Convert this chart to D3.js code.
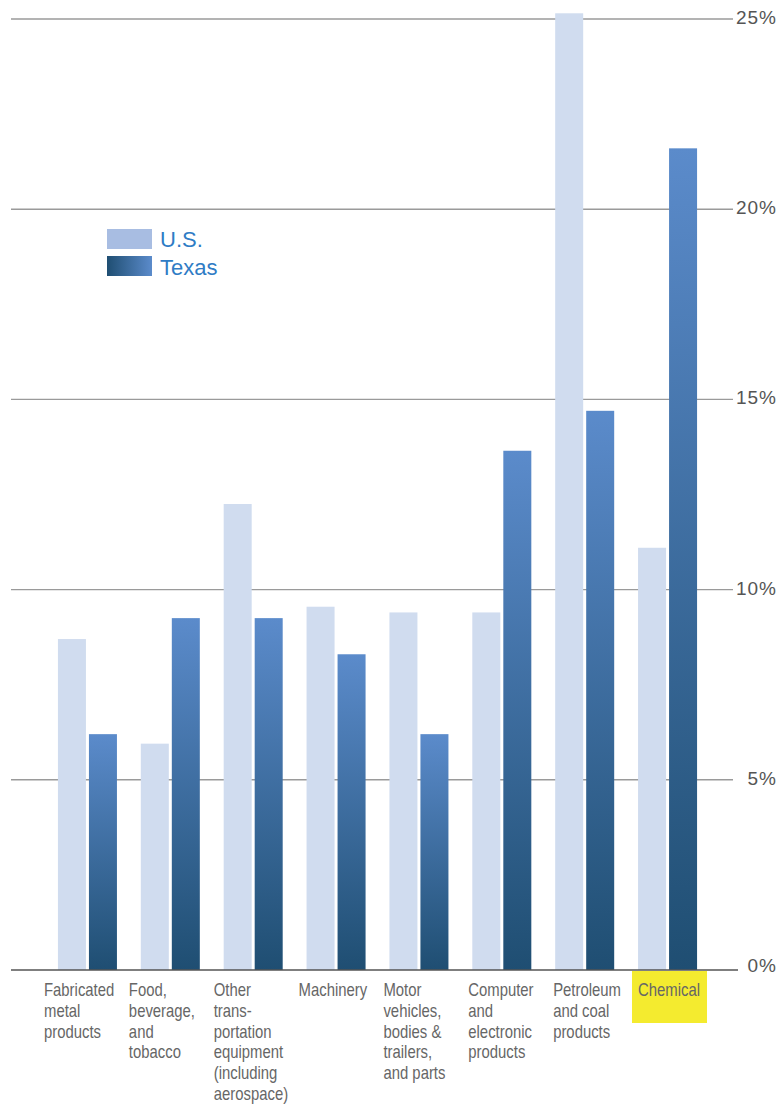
<!DOCTYPE html>
<meta charset="utf-8">
<style>
body { margin: 0; background: #fff; }
.tick-label { font: 500 19px "Liberation Sans", Arial, sans-serif; fill: #555; letter-spacing: 1px; }
.cat-label { font: 17.5px "Liberation Sans", Arial, sans-serif; fill: #666; }
.legend-label { font: 22px "Liberation Sans", Arial, sans-serif; fill: #2f7cc5; }
</style>
<body>
<script src="https://d3js.org/d3.v7.min.js"></script>
<script>
// industries, in the order they are drawn
var categories = [
  ["Fabricated", "metal", "products"],
  ["Food,", "beverage,", "and", "tobacco"],
  ["Other", "trans-", "portation", "equipment", "(including", "aerospace)"],
  ["Machinery"],
  ["Motor", "vehicles,", "bodies &", "trailers,", "and parts"],
  ["Computer", "and", "electronic", "products"],
  ["Petroleum", "and coal", "products"],
  ["Chemical"]
];
var usValues = [8.7, 5.95, 12.25, 9.55, 9.4, 9.4, 25.15, 11.1];
var texasValues = [6.2, 9.25, 9.25, 8.3, 6.2, 13.65, 14.7, 21.6];
var tickValues = [0, 5, 10, 15, 20, 25];
var highlighted = 7; // "Chemical"

var W = 780, H = 1106;
var svg = d3.select("body").append("svg")
  .attr("width", W).attr("height", H);

var defs = svg.append("defs");
var tg = defs.append("linearGradient").attr("id", "texasBar")
  .attr("x1", 0).attr("y1", 0).attr("x2", 0).attr("y2", 1);
tg.append("stop").attr("offset", "0%").attr("stop-color", "#5b8bcb");
tg.append("stop").attr("offset", "100%").attr("stop-color", "#1f4e72");
var lg = defs.append("linearGradient").attr("id", "texasLegend")
  .attr("x1", 0).attr("y1", 0).attr("x2", 1).attr("y2", 0);
lg.append("stop").attr("offset", "0%").attr("stop-color", "#1f4e72");
lg.append("stop").attr("offset", "100%").attr("stop-color", "#5b8bcb");

var y = d3.scaleLinear().domain([0, 25]).range([970, 19]);

var x = d3.scaleBand()
  .domain(d3.range(categories.length))
  .range([46, 709])
  .paddingInner(0.288)
  .paddingOuter(0.144);

// label columns are laid out on their own even grid
var xLabel = d3.scalePoint()
  .domain(d3.range(categories.length))
  .range([44, 638]);

// gridlines
svg.append("g").selectAll("line")
  .data(tickValues.filter(function(d) { return d > 0; }))
  .enter().append("line")
    .attr("x1", 11).attr("x2", 733)
    .attr("y1", function(d) { return y(d); })
    .attr("y2", function(d) { return y(d); })
    .attr("stroke", "#9a9a9a")
    .attr("stroke-width", 1.4);

// highlight behind the Chemical label
svg.append("rect")
  .attr("x", xLabel(highlighted) - 6).attr("y", 971)
  .attr("width", 75).attr("height", 52)
  .attr("fill", "#f4eb2f");

var half = x.bandwidth() / 2;
var gap = 3;
var groups = svg.append("g").selectAll("g")
  .data(categories)
  .enter().append("g")
    .attr("transform", function(d, i) { return "translate(" + x(i) + ",0)"; });

groups.append("rect")
  .attr("x", 0)
  .attr("width", half - gap / 2)
  .attr("y", function(d, i) { return y(usValues[i]); })
  .attr("height", function(d, i) { return y(0) - y(usValues[i]); })
  .attr("fill", "#d0dcef");

groups.append("rect")
  .attr("x", half + gap / 2)
  .attr("width", half - gap / 2)
  .attr("y", function(d, i) { return y(texasValues[i]); })
  .attr("height", function(d, i) { return y(0) - y(texasValues[i]); })
  .attr("fill", "url(#texasBar)");

// baseline
svg.append("line")
  .attr("x1", 11).attr("x2", 738)
  .attr("y1", y(0)).attr("y2", y(0))
  .attr("stroke", "#555").attr("stroke-width", 1.5);

// y tick labels on the right
svg.append("g").selectAll("text")
  .data(tickValues)
  .enter().append("text")
    .attr("class", "tick-label")
    .attr("x", 777)
    .attr("y", function(d) { return y(d) + (d === 0 ? 2 : 5); })
    .attr("text-anchor", "end")
    .text(function(d) { return d + "%"; });

// category labels (squeezed horizontally to mimic a condensed face)
var labels = svg.append("g").selectAll("text")
  .data(categories)
  .enter().append("text")
    .attr("class", "cat-label")
    .attr("transform", function(d, i) { return "translate(" + xLabel(i) + ",996) scale(0.85,1)"; });
labels.selectAll("tspan")
  .data(function(d) { return d; })
  .enter().append("tspan")
    .attr("x", 0)
    .attr("dy", function(d, j) { return j === 0 ? 0 : 20.8; })
    .text(function(d) { return d; });

// legend
var legend = svg.append("g").attr("transform", "translate(107,229)");
legend.append("rect").attr("width", 45).attr("height", 20).attr("fill", "#a8bde2");
legend.append("rect").attr("y", 27).attr("width", 45).attr("height", 20).attr("fill", "url(#texasLegend)");
legend.append("text").attr("class", "legend-label").attr("x", 53).attr("y", 18).text("U.S.");
legend.append("text").attr("class", "legend-label").attr("x", 53).attr("y", 46).text("Texas");
</script>
</body>
